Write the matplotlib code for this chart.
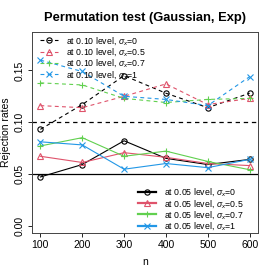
import numpy as np
import matplotlib
matplotlib.use("Agg")
import matplotlib.pyplot as plt
from matplotlib.lines import Line2D

plt.rcParams['font.family'] = ['Liberation Sans', 'DejaVu Sans']
plt.rcParams['mathtext.fontset'] = 'custom'
plt.rcParams['mathtext.rm'] = 'Liberation Sans'
plt.rcParams['mathtext.it'] = 'Liberation Sans:italic'

# sample sizes
n = [100, 200, 300, 400, 500, 600]
sigmas = ['0', '0.5', '0.7', '1']

# rejection rates at 0.10 level (dashed)
r10_s0 = [0.093, 0.117, 0.145, 0.128, 0.114, 0.128]
r10_s05 = [0.116, 0.114, 0.125, 0.137, 0.117, 0.123]
r10_s07 = [0.138, 0.136, 0.123, 0.119, 0.122, 0.123]
r10_s1 = [0.160, 0.149, 0.125, 0.122, 0.116, 0.144]

# rejection rates at 0.05 level (solid)
r05_s0 = [0.047, 0.059, 0.082, 0.065, 0.059, 0.064]
r05_s05 = [0.067, 0.061, 0.0705, 0.066, 0.060, 0.058]
r05_s07 = [0.077, 0.085, 0.067, 0.072, 0.062, 0.054]
r05_s1 = [0.081, 0.078, 0.0545, 0.060, 0.056, 0.064]

cols = ['#000000', '#DF536B', '#61D04F', '#2297E6']
marks = ['o', '^', '+', 'x']

fig = plt.figure(figsize=(2.74, 2.74), dpi=100)
ax = fig.add_axes([32/274, 1-233/274, 226/274, 201/274])

r10 = [r10_s0, r10_s05, r10_s07, r10_s1]
r05 = [r05_s0, r05_s05, r05_s07, r05_s1]

h10 = []
h05 = []
for i in range(4):
    l, = ax.plot(n, r10[i], color=cols[i], marker=marks[i], ms=3.8, mfc='none',
                 mew=0.8, lw=0.8, dashes=(3.5, 3))
    h10.append(l)
    ax.plot(n, r05[i], color=cols[i], marker=marks[i], ms=3.8, mfc='none',
            mew=0.8, lw=0.8)
    h05.append(Line2D([], [], color=cols[i], marker=marks[i], ms=3.8, mfc='none',
                      mew=0.8, lw=1.6))

ax.axhline(0.10, color='black', lw=0.9, dashes=(3.5, 3))
ax.axhline(0.05, color='black', lw=0.9)

ax.set_xlim(80, 620)
ax.set_ylim(-0.0072, 0.1872)
ax.set_xticks(n)
ax.set_yticks([0.00, 0.05, 0.10, 0.15])
ax.set_yticklabels(['0.00', '0.05', '0.10', '0.15'], rotation=90, va='center')
ax.tick_params(labelsize=7.5, length=3, width=0.6, pad=2)
for s in ax.spines.values():
    s.set_linewidth(0.7)
    s.set_color('#444444')

ax.set_xlabel('n', fontsize=7.5, labelpad=5)
ax.set_ylabel('Rejection rates', fontsize=7.5, labelpad=3)
ax.set_title('Permutation test (Gaussian, Exp)', fontsize=9.3, fontweight='bold', pad=8)

lab10 = ['at 0.10 level, $\\sigma_x$=' + s for s in sigmas]
lab05 = ['at 0.05 level, $\\sigma_x$=' + s for s in sigmas]
leg1 = ax.legend(h10, lab10, loc='upper left', bbox_to_anchor=(0.03, 0.99), frameon=False,
                 fontsize=6.3, handlelength=2.1, handletextpad=0.9, labelspacing=-0.08,
                 borderaxespad=0, borderpad=0.1)
ax.add_artist(leg1)
ax.legend(h05, lab05, loc='lower right', bbox_to_anchor=(0.94, 0.0), frameon=False,
          fontsize=6.3, handlelength=2.1, handletextpad=0.9, labelspacing=-0.08,
          borderaxespad=0, borderpad=0.1)

fig.savefig('out.png', dpi=100)
